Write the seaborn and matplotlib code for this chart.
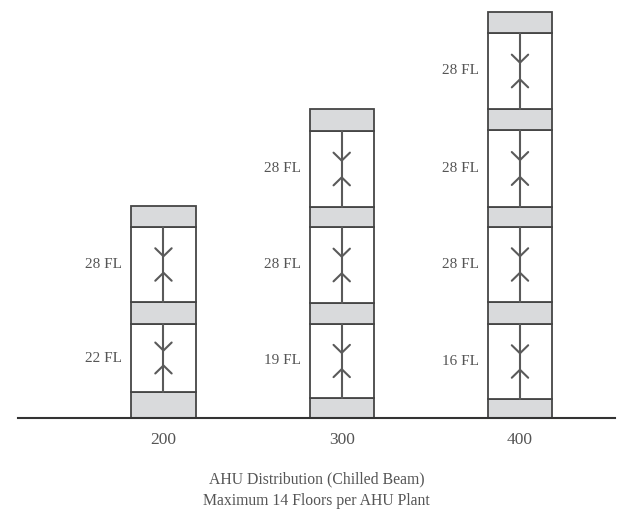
import numpy as np
import matplotlib
matplotlib.use('Agg')
import matplotlib.pyplot as plt
import seaborn as sns

# towers (building heights) and their stacks, bottom to top
towers = ['200', '300', '400']
plant_200 = [26, 22, 21]
zone_200 = [68, 75]
fl_200 = ['22 FL', '28 FL']
plant_300 = [20, 21, 20, 22]
zone_300 = [74, 76, 76]
fl_300 = ['19 FL', '28 FL', '28 FL']
plant_400 = [19, 22, 20, 21, 21]
zone_400 = [75, 75, 77, 76]
fl_400 = ['16 FL', '28 FL', '28 FL', '28 FL']

plants = [plant_200, plant_300, plant_400]
zones = [zone_200, zone_300, zone_400]
labels = [fl_200, fl_300, fl_400]

sns.set_theme(style='white')
plt.rcParams['font.family'] = ['Liberation Serif', 'DejaVu Serif']

gray = '#d9dadc'
edge = '#454545'
txt = '#555555'
arr = '#5a5a5a'
w = 0.36

fig = plt.figure(figsize=(6.33, 5.15), dpi=100)
ax = fig.add_axes([18/633, 97/515, 597/633, 418/515])

for i, t in enumerate(towers):
    bottom = 0
    p, z, lab = plants[i], zones[i], labels[i]
    for k in range(len(p)):
        ax.bar(i, p[k], width=w, bottom=bottom, color=gray, edgecolor=edge, linewidth=1.3, zorder=2)
        bottom += p[k]
        if k < len(z):
            h = z[k]
            ax.bar(i, h, width=w, bottom=bottom, color='white', edgecolor=edge, linewidth=1.3, zorder=2)
            top = bottom + h
            ax.plot([i, i], [bottom, top], color=arr, lw=1.5, zorder=3)
            dy = top - 0.39 * h
            uy = top - 0.61 * h
            ax.plot([i - 0.046, i, i + 0.046], [dy + 8, dy, dy + 8], color=arr, lw=1.5, zorder=3)
            ax.plot([i - 0.046, i, i + 0.046], [uy - 8, uy, uy - 8], color=arr, lw=1.5, zorder=3)
            ax.text(i - w / 2 - 0.05, bottom + h / 2, lab[k], ha='right', va='center',
                    fontsize=11, color=txt)
            bottom = top

ax.set_xlim(-0.816, 2.533)
ax.set_ylim(0, 418)
ax.set_xticks(range(len(towers)))
ax.set_xticklabels(towers, fontsize=12.5, color=txt)
ax.set_yticks([])
ax.tick_params(axis='x', length=0, pad=10)
for s in ['left', 'right', 'top']:
    ax.spines[s].set_visible(False)
ax.spines['bottom'].set_color('#333333')
ax.spines['bottom'].set_linewidth(1.5)
ax.set_xlabel('AHU Distribution (Chilled Beam)\nMaximum 14 Floors per AHU Plant',
              fontsize=11.3, color=txt, labelpad=17, linespacing=1.42)
ax.patch.set_alpha(0)

fig.savefig('out.png', dpi=100)
